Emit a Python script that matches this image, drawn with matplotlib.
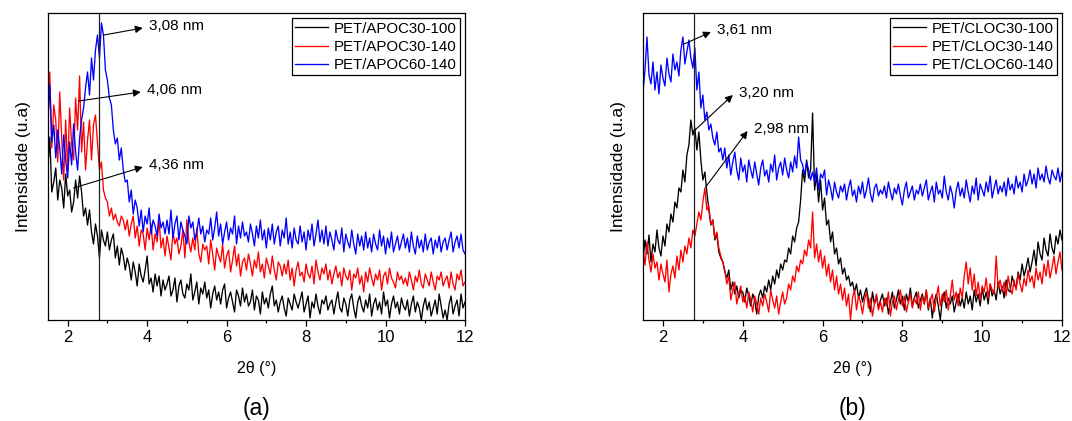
import numpy as np
import matplotlib
matplotlib.use('Agg')
import matplotlib.pyplot as plt
from matplotlib.ticker import MultipleLocator

plt.rcParams['font.family'] = ['Liberation Sans', 'DejaVu Sans']

# 2-theta grid, 0.05 deg step from 1.5 to 12
two_theta = np.round(np.arange(0, 211) * 0.05 + 1.5, 2)

# (a) APOC samples (arbitrary intensity units)
apoc30_100 = [
    150, 183, 128, 138, 152, 120, 140, 132, 112, 146, 124, 130, 108, 118, 140, 122, 144, 128, 104, 112,
    95, 110, 88, 76, 96, 84, 62, 90, 80, 74, 88, 70, 80, 86, 62, 74, 55, 72, 64, 50,
    62, 54, 40, 58, 48, 34, 56, 44, 38, 50, 64, 36, 42, 28, 46, 34, 44, 24, 40, 30,
    36, 44, 24, 30, 42, 18, 34, 40, 26, 22, 36, 30, 46, 20, 28, 38, 16, 32, 26, 38,
    22, 30, 12, 26, 34, 20, 28, 16, 30, 36, 12, 22, 28, 18, 8, 30, 24, 14, 32, 18,
    26, 14, 18, 30, 10, 24, 20, 6, 28, 16, 22, 12, 26, 34, 14, 20, 8, 18, 24, 12,
    4, 22, 16, 10, 26, 18, 12, 20, 28, 8, 16, 24, 2, 18, 12, 26, 14, 6, 20, 16,
    24, 10, 16, 20, 6, 18, 28, 12, 8, 22, 16, 4, 20, 26, 12, 2, 18, 24, 14, 8,
    20, 12, 26, 4, 16, 22, 10, 18, 6, 28, 14, 20, 2, 16, 24, 12, 18, 6, 22, 14,
    10, 20, 4, 16, 24, 8, 18, 12, 0, 14, 22, 10, 18, 4, 12, 20, 6, 26, 14, 2,
    10, 0, 16, 24, 6, 14, 20, 4, 26, 12, 18]
apoc30_140 = [
    190, 248, 172, 215, 200, 158, 228, 182, 140, 200, 150, 212, 176, 160, 222, 190, 244, 168, 198, 150,
    180, 200, 160, 195, 205, 178, 150, 158, 130, 122, 118, 104, 112, 100, 106, 98, 94, 104, 100, 90,
    100, 84, 96, 104, 82, 94, 74, 90, 86, 70, 92, 80, 96, 70, 86, 78, 100, 72, 82, 64,
    84, 72, 60, 88, 76, 82, 66, 74, 90, 62, 100, 78, 68, 82, 70, 92, 66, 58, 76, 70,
    74, 56, 80, 66, 50, 72, 64, 58, 76, 52, 64, 70, 48, 60, 74, 54, 66, 44, 58, 62,
    50, 66, 56, 44, 60, 52, 68, 48, 56, 42, 62, 54, 46, 64, 50, 40, 58, 54, 44, 56,
    46, 60, 40, 52, 34, 50, 58, 44, 48, 38, 56, 46, 42, 54, 36, 60, 48, 40, 52, 46,
    56, 40, 50, 36, 46, 54, 42, 48, 34, 52, 44, 40, 50, 30, 46, 42, 52, 36, 44, 28,
    48, 38, 52, 42, 34, 46, 40, 50, 30, 44, 48, 36, 52, 42, 38, 32, 48, 40, 44, 36,
    42, 34, 48, 40, 30, 44, 38, 50, 36, 32, 46, 40, 34, 48, 38, 30, 44, 40, 48, 34,
    40, 44, 32, 48, 36, 30, 46, 40, 50, 34, 38]
apoc60_140 = [
    200, 235, 178, 195, 162, 190, 172, 146, 185, 160, 142, 178, 155, 196, 168, 150, 182, 200, 212, 232,
    248, 225, 262, 240, 270, 285, 262, 297, 285, 250, 240, 222, 215, 190, 176, 182, 160, 172, 150, 138,
    140, 118, 130, 106, 120, 112, 94, 110, 88, 104, 96, 112, 86, 100, 94, 84, 106, 92, 98, 86,
    100, 86, 110, 82, 96, 104, 80, 98, 90, 84, 76, 104, 92, 98, 80, 88, 102, 86, 94, 78,
    90, 86, 102, 80, 92, 108, 84, 96, 76, 88, 98, 80, 92, 86, 104, 76, 94, 82, 98, 84,
    88, 78, 96, 86, 74, 94, 82, 100, 80, 90, 72, 92, 80, 96, 76, 88, 94, 74, 90, 82,
    102, 76, 88, 72, 92, 80, 76, 94, 78, 88, 70, 90, 80, 96, 74, 86, 100, 78, 90, 76,
    94, 74, 88, 80, 70, 90, 80, 76, 92, 68, 86, 78, 72, 90, 76, 66, 86, 74, 84, 70,
    88, 72, 82, 68, 86, 76, 70, 90, 74, 84, 66, 82, 72, 88, 68, 76, 84, 70, 78, 86,
    72, 82, 68, 88, 74, 66, 84, 72, 80, 68, 86, 70, 78, 82, 66, 80, 72, 84, 68, 78,
    82, 70, 80, 88, 68, 78, 84, 72, 86, 70, 66]

# (b) CLOC samples
cloc30_100 = [
    60, 80, 66, 85, 58, 76, 68, 90, 72, 64, 84, 74, 96, 88, 106, 98, 118, 112, 132, 128,
    150, 138, 165, 175, 200, 185, 192, 170, 188, 160, 140, 148, 128, 110, 95, 100, 80, 86, 68, 62,
    58, 48, 42, 50, 30, 38, 26, 34, 22, 30, 28, 18, 32, 24, 14, 26, 20, 6, 24, 30,
    22, 34, 28, 40, 30, 44, 36, 50, 42, 56, 50, 60, 58, 72, 66, 84, 78, 92, 98, 120,
    150, 138, 160, 142, 150, 207, 130, 145, 118, 140, 110, 122, 95, 100, 78, 88, 66, 72, 56, 62,
    46, 52, 40, 44, 34, 38, 28, 36, 22, 30, 18, 26, 32, 20, 8, 28, 16, 24, 12, 20,
    26, 14, 22, 6, 18, 28, 12, 20, 30, 16, 24, 10, 26, 18, 32, 14, 22, 28, 12, 20,
    26, 16, 30, 10, 22, 2, 18, 26, 14, 0, 20, 28, 12, 22, 16, 24, 8, 18, 26, 14,
    22, 12, 28, 16, 24, 10, 30, 18, 26, 14, 32, 20, 28, 16, 36, 24, 30, 20, 38, 26,
    34, 22, 40, 30, 28, 44, 36, 32, 48, 40, 56, 44, 52, 62, 48, 58, 70, 54, 78, 66,
    60, 82, 70, 64, 86, 72, 66, 84, 76, 90, 80]
cloc30_140 = [
    72, 55, 78, 60, 48, 66, 52, 58, 40, 56, 46, 38, 60, 28, 46, 54, 42, 64, 50, 70,
    58, 74, 66, 82, 72, 90, 84, 96, 108, 100, 118, 132, 110, 114, 96, 100, 82, 88, 72, 64,
    58, 50, 36, 44, 20, 30, 38, 16, 26, 34, 18, 24, 12, 28, 20, 8, 24, 16, 6, 22,
    14, 26, 18, 8, 30, 20, 12, 24, 6, 18, 28, 16, 22, 36, 30, 44, 38, 54, 48, 60,
    56, 70, 64, 80, 72, 108, 62, 76, 58, 70, 52, 64, 44, 56, 38, 50, 30, 44, 26, 36,
    20, 32, 14, 26, 0, 22, 30, 10, 24, 18, 6, 20, 28, 12, 22, 4, 16, 26, 10, 18,
    8, 22, 14, 28, 4, 18, 24, 10, 20, 30, 14, 24, 8, 18, 26, 12, 22, 16, 28, 10,
    24, 16, 30, 12, 20, 26, 8, 22, 34, 14, 26, 18, 30, 10, 24, 40, 20, 28, 14, 32,
    22, 44, 58, 36, 52, 30, 46, 24, 38, 20, 34, 28, 42, 22, 36, 30, 26, 64, 32, 40,
    28, 38, 24, 44, 32, 26, 40, 30, 46, 36, 28, 42, 34, 50, 38, 44, 32, 52, 40, 48,
    36, 56, 44, 60, 42, 52, 64, 46, 58, 68, 50]
cloc60_140 = [
    228, 250, 283, 245, 236, 258, 230, 248, 226, 255, 242, 234, 262, 246, 238, 266, 250, 258, 244, 270,
    283, 256, 268, 280, 262, 252, 272, 230, 248, 212, 225, 200, 208, 190, 196, 182, 175, 188, 168, 172,
    160, 172, 152, 165, 145, 158, 168, 150, 140, 162, 148, 155, 138, 160, 150, 142, 158, 146, 135, 152,
    160, 144, 150, 138, 156, 148, 165, 140, 152, 158, 145, 162, 150, 142, 158, 148, 164, 152, 183, 160,
    155, 145, 158, 150, 140, 148, 138, 152, 130, 146, 142, 150, 125, 140, 132, 120, 138, 128, 122, 134,
    128, 136, 120, 132, 140, 124, 130, 118, 134, 126, 138, 122, 130, 142, 126, 118, 132, 136, 124, 130,
    126, 134, 122, 138, 128, 120, 132, 126, 136, 124, 115, 130, 138, 122, 128, 134, 120, 130, 126, 136,
    124, 132, 140, 120, 128, 134, 118, 138, 126, 130, 122, 144, 128, 120, 134, 126, 112, 130, 138, 124,
    132, 122, 140, 128, 118, 134, 126, 142, 120, 136, 130, 124, 138, 128, 144, 122, 132, 140, 126, 134,
    128, 138, 124, 142, 130, 136, 126, 144, 132, 138, 128, 146, 134, 140, 150, 136, 146, 132, 152, 140,
    146, 138, 154, 142, 136, 150, 144, 140, 152, 138, 148]

labels_a = ['PET/APOC30-100', 'PET/APOC30-140', 'PET/APOC60-140']
labels_b = ['PET/CLOC30-100', 'PET/CLOC30-140', 'PET/CLOC60-140']
colors = ['black', 'red', 'blue']

# (start x, start y, end x, end y, text)
notes_a = [(2.91, 285, 3.89, 292, '3,08 nm'),
           (2.28, 219, 3.84, 228, '4,06 nm'),
           (2.15, 132, 3.89, 153, '4,36 nm')]
notes_b = [(2.53, 276, 3.20, 288, '3,61 nm'),
           (2.75, 188, 3.75, 225, '3,20 nm'),
           (3.07, 133, 4.12, 189, '2,98 nm')]
ref_line = 2.78

fig = plt.figure(figsize=(10.72, 4.21), dpi=100)
ax_a = fig.add_axes([47.8 / 1072, 101 / 421, 417.2 / 1072, 307 / 421])
ax_b = fig.add_axes([643 / 1072, 101 / 421, 419 / 1072, 307 / 421])


def draw_panel(ax, series, labels, notes, tag):
    for y, lab, c in zip(series, labels, colors):
        ax.plot(two_theta, y, color=c, lw=0.95, label=lab)
    ax.axvline(ref_line, color='#222222', lw=0.9)
    for x0, y0, x1, y1, txt in notes:
        ax.annotate('', xy=(x1, y1), xytext=(x0, y0),
                    arrowprops=dict(arrowstyle='-|>', color='black', lw=0.8,
                                    mutation_scale=11, shrinkA=0, shrinkB=0))
        ax.text(x1 + 0.15, y1 + 2, txt, fontsize=11, va='center', ha='left')
    ax.set_xlim(1.5, 12)
    ax.set_ylim(0, 307)
    ax.xaxis.set_major_locator(MultipleLocator(2))
    ax.xaxis.set_minor_locator(MultipleLocator(1))
    ax.tick_params(axis='x', which='major', direction='out', length=4, width=0.9, labelsize=12)
    ax.tick_params(axis='x', which='minor', direction='out', length=2.5, width=0.9)
    ax.set_yticks([])
    for s in ax.spines.values():
        s.set_linewidth(0.9)
    ax.set_ylabel('Intensidade (u.a)', fontsize=12.5, labelpad=12)
    ax.set_xlabel('2θ (°)', fontsize=11.5, labelpad=11)
    leg = ax.legend(loc='upper right', fontsize=10.8, handlelength=2.2, handletextpad=0.35,
                    labelspacing=0.28, borderpad=0.22, borderaxespad=0.35,
                    fancybox=False, framealpha=1)
    leg.get_frame().set_edgecolor('black')
    leg.get_frame().set_linewidth(0.9)
    ax.text(0.5, -0.25, tag, transform=ax.transAxes, ha='center', va='top', fontsize=16.5)


draw_panel(ax_a, [apoc30_100, apoc30_140, apoc60_140], labels_a, notes_a, '(a)')
draw_panel(ax_b, [cloc30_100, cloc30_140, cloc60_140], labels_b, notes_b, '(b)')

fig.savefig('out.png', dpi=100)
